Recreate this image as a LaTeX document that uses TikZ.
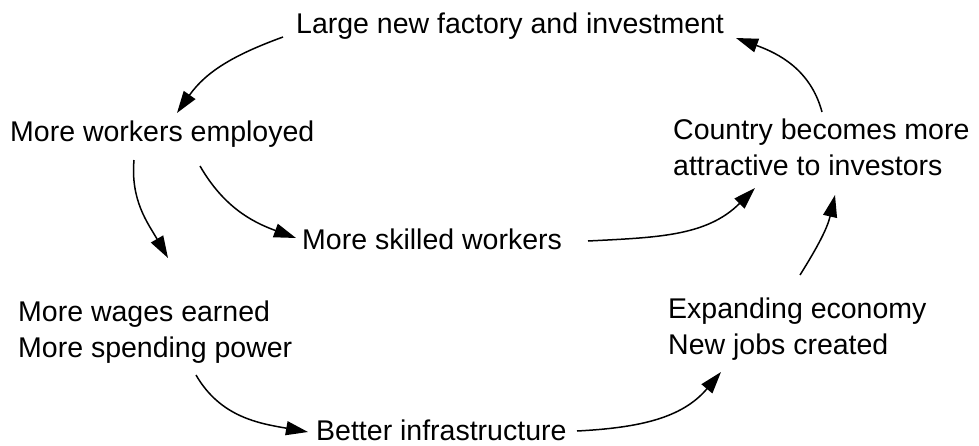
\documentclass[tikz,border=0pt]{standalone}
\usepackage{fontspec}
\setmainfont{Liberation Sans}
\usetikzlibrary{arrows.meta}
\begin{document}
\begin{tikzpicture}[x=1pt,y=1pt,
  lbl/.style={inner sep=0pt, anchor=base west, align=left, font=\fontsize{28.5}{36}\selectfont},
  arr/.style={line width=1.5pt, -{Triangle[length=22pt,width=14pt]}}]
\useasboundingbox (0,0) rectangle (979,-445);
\node[lbl] (large) at (296,-33) {Large new factory and investment};
\node[lbl] (workers) at (10,-141) {More workers employed};
\node[lbl] (country) at (673,-175) {Country becomes more\\attractive to investors};
\node[lbl] (skilled) at (302,-249) {More skilled workers};
\node[lbl] (wages) at (18,-357) {More wages earned\\More spending power};
\node[lbl] (expanding) at (668,-354) {Expanding economy\\New jobs created};
\node[lbl] (better) at (316,-440) {Better infrastructure};

\draw[arr] ([shift={(-13,-4)}]large.base west) to[out=200,in=55] ([shift={(167,28)}]workers.base west);
\draw[arr] ([shift={(149,63)}]country.base west) to[out=105,in=-20] ([shift={(440,-5)}]large.base west);
\draw[arr] ([shift={(124,-19)}]workers.base west) to[out=265,in=120] ([shift={(150,99)}]wages.base west);
\draw[arr] ([shift={(190,-25)}]workers.base west) to[out=-60,in=160] ([shift={(-6,11)}]skilled.base west);
\draw[arr] ([shift={(286,8)}]skilled.base west) to[out=3,in=225] ([shift={(82,-13)}]country.base west);
\draw[arr] ([shift={(178,-18)}]wages.base west) to[out=-60,in=170] ([shift={(-8,8)}]better.base west);
\draw[arr] ([shift={(261,9)}]better.base west) to[out=3,in=230] ([shift={(53,-18)}]expanding.base west);
\draw[arr] ([shift={(132,79)}]expanding.base west) to[out=58,in=257] ([shift={(162,-20)}]country.base west);
\end{tikzpicture}
\end{document}
